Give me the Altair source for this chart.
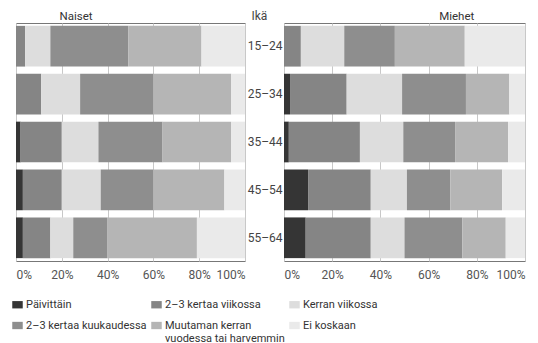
import altair as alt
import pandas as pd

ages = ["15–24", "25–34", "35–44", "45–54", "55–64"]
categories = [
    "Päivittäin",
    "2–3 kertaa viikossa",
    "Kerran viikossa",
    "2–3 kertaa kuukaudessa",
    "Muutaman kerran vuodessa tai harvemmin",
    "Ei koskaan",
]
colors = ["#353535", "#858585", "#dddddd", "#8e8e8e", "#b5b5b5", "#eaeaea"]

# one row per age group, values in category order (%)
naiset = [
    [0, 4, 11, 34, 32, 19],
    [0, 11, 17, 32, 34, 6],
    [2, 18, 16, 28, 30, 6],
    [3, 17, 17, 23, 31, 9],
    [3, 12, 10, 15, 39, 21],
]
miehet = [
    [0, 7, 18, 21, 29, 25],
    [2.5, 23.5, 23, 26.5, 18, 6.5],
    [2, 29.5, 18, 21.5, 22, 7],
    [10, 26, 15, 18, 21.5, 9.5],
    [9, 27, 14, 24, 18, 8],
]
x_ticks = [0, 20, 40, 60, 80, 100]


def frame(values):
    rows = []
    for ai, age in enumerate(ages):
        for ci, cat in enumerate(categories):
            rows.append({"age": age, "cat": cat, "ci": ci, "value": values[ai][ci]})
    return pd.DataFrame(rows)


FONT = "Roboto"
multiline = ("datum.label == 'Muutaman kerran vuodessa tai harvemmin' ? "
             "['Muutaman kerran', 'vuodessa tai harvemmin'] : datum.label")

color = alt.Color(
    "cat:N",
    scale=alt.Scale(domain=categories, range=colors),
    sort=categories,
    legend=alt.Legend(
        title=None, orient="none", legendX=-4, legendY=276, columns=3,
        direction="horizontal",
        symbolType="M-1,-0.7H1V0.7H-1Z", symbolSize=110, symbolStrokeWidth=0,
        labelFont=FONT, labelFontSize=11, labelColor="#333", labelLimit=0,
        labelExpr=multiline, columnPadding=4, rowPadding=9, labelOffset=3,
        padding=0,
    ),
)

xaxis = alt.Axis(values=x_ticks, labelExpr="datum.value + '%'", title=None,
                 domain=False, ticks=False, grid=True, gridColor="#c8c8c8",
                 labelFont=FONT, labelFontSize=12, labelColor="#555",
                 labelPadding=8)

yscale = alt.Scale(paddingInner=0.15, paddingOuter=0.06)


def panel(values, title, dx, dy, width, show_y):
    if show_y:
        yax = alt.Axis(title="Ikä", titleAngle=0, titleX=-33, titleY=-8,
                       titleAlign="left", titleBaseline="middle",
                       titleFont=FONT, titleFontSize=12, titleFontWeight="normal",
                       titleColor="#444", labelFont=FONT, labelFontSize=12,
                       labelColor="#444", labelPadding=2, domain=False, ticks=False)
    else:
        yax = None
    return alt.Chart(frame(values)).mark_bar().encode(
        x=alt.X("value:Q", stack="zero", scale=alt.Scale(domain=[0, 100], nice=False), axis=xaxis),
        y=alt.Y("age:N", sort=ages, scale=yscale, axis=yax),
        color=color,
        order=alt.Order("ci:Q"),
    ).properties(
        width=width, height=238,
        title=alt.TitleParams(title, anchor="start", dx=dx, dy=dy, font=FONT, fontSize=11.5,
                              fontWeight="normal", color="#333", offset=1),
    )


left = panel(naiset, "Naiset", 43.5, 0, 229, False)
right = panel(miehet, "Miehet", 192, 14, 241, True)

chart = alt.hconcat(left, right, spacing=39, bounds="flush").properties(
    padding={"left": 4, "top": 0, "right": 0, "bottom": 0}
).configure_view(stroke="#777", strokeWidth=1)

chart.save("out.html", embed_options={"renderer": "svg", "actions": False})
